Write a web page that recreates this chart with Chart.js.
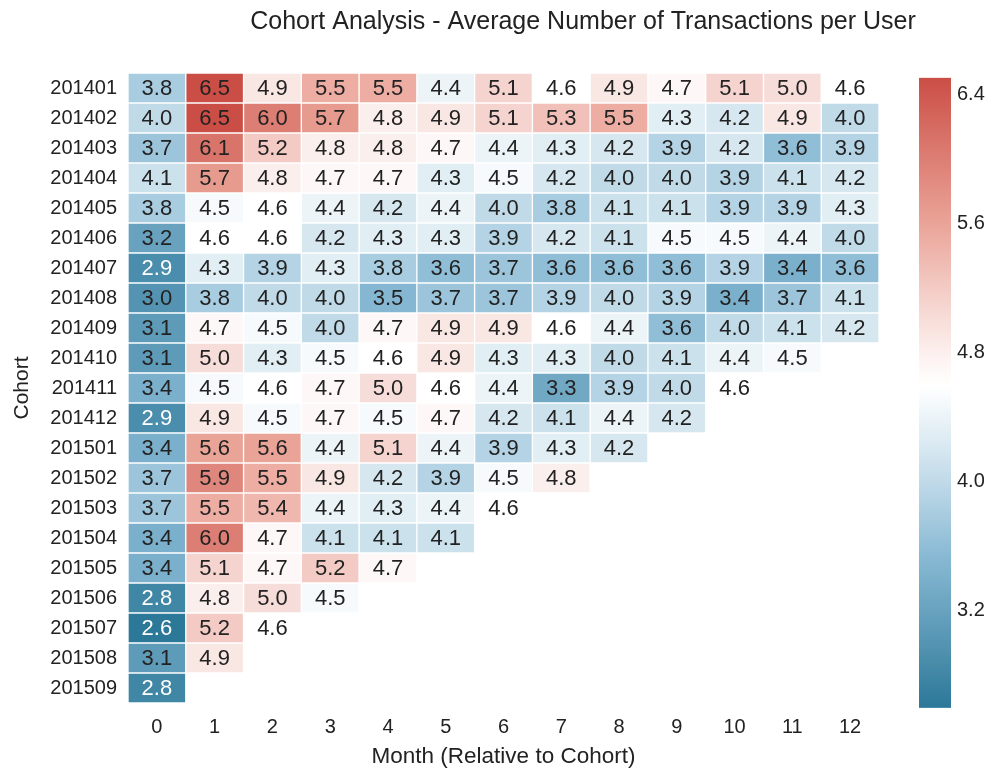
<!DOCTYPE html>
<html>
<head>
<meta charset="utf-8">
<script src="https://cdn.jsdelivr.net/npm/chart.js@4/dist/chart.umd.min.js"></script>
<style>
  html, body { margin: 0; padding: 0; background: #ffffff; }
  #wrap { width: 1000px; height: 770px; position: relative; }
</style>
</head>
<body>
<div id="wrap"><canvas id="c" width="1000" height="770"></canvas></div>
<script>
// ---------------- data ----------------
const titleText = 'Cohort Analysis - Average Number of Transactions per User';
const xTitle = 'Month (Relative to Cohort)';
const yTitle = 'Cohort';
const cohorts = ['201401','201402','201403','201404','201405','201406','201407','201408','201409','201410','201411','201412','201501','201502','201503','201504','201505','201506','201507','201508','201509'];
const months = [0,1,2,3,4,5,6,7,8,9,10,11,12];
const c201401 = [3.8,6.5,4.9,5.5,5.5,4.4,5.1,4.6,4.9,4.7,5.1,5.0,4.6];
const c201402 = [4.0,6.5,6.0,5.7,4.8,4.9,5.1,5.3,5.5,4.3,4.2,4.9,4.0];
const c201403 = [3.7,6.1,5.2,4.8,4.8,4.7,4.4,4.3,4.2,3.9,4.2,3.6,3.9];
const c201404 = [4.1,5.7,4.8,4.7,4.7,4.3,4.5,4.2,4.0,4.0,3.9,4.1,4.2];
const c201405 = [3.8,4.5,4.6,4.4,4.2,4.4,4.0,3.8,4.1,4.1,3.9,3.9,4.3];
const c201406 = [3.2,4.6,4.6,4.2,4.3,4.3,3.9,4.2,4.1,4.5,4.5,4.4,4.0];
const c201407 = [2.9,4.3,3.9,4.3,3.8,3.6,3.7,3.6,3.6,3.6,3.9,3.4,3.6];
const c201408 = [3.0,3.8,4.0,4.0,3.5,3.7,3.7,3.9,4.0,3.9,3.4,3.7,4.1];
const c201409 = [3.1,4.7,4.5,4.0,4.7,4.9,4.9,4.6,4.4,3.6,4.0,4.1,4.2];
const c201410 = [3.1,5.0,4.3,4.5,4.6,4.9,4.3,4.3,4.0,4.1,4.4,4.5];
const c201411 = [3.4,4.5,4.6,4.7,5.0,4.6,4.4,3.3,3.9,4.0,4.6];
const c201412 = [2.9,4.9,4.5,4.7,4.5,4.7,4.2,4.1,4.4,4.2];
const c201501 = [3.4,5.6,5.6,4.4,5.1,4.4,3.9,4.3,4.2];
const c201502 = [3.7,5.9,5.5,4.9,4.2,3.9,4.5,4.8];
const c201503 = [3.7,5.5,5.4,4.4,4.3,4.4,4.6];
const c201504 = [3.4,6.0,4.7,4.1,4.1,4.1];
const c201505 = [3.4,5.1,4.7,5.2,4.7];
const c201506 = [2.8,4.8,5.0,4.5];
const c201507 = [2.6,5.2,4.6];
const c201508 = [3.1,4.9];
const c201509 = [2.8];
const values = [c201401,c201402,c201403,c201404,c201405,c201406,c201407,c201408,c201409,c201410,c201411,c201412,c201501,c201502,c201503,c201504,c201505,c201506,c201507,c201508,c201509];
const cbTicks = [3.2, 4.0, 4.8, 5.6, 6.4];
const vmin = 2.6, vmax = 6.5;

// ---------------- colour map ----------------
const vcenter = 4.6;
const lowStops = [[255, 255, 255], [136, 185, 212], [44, 120, 152]];
const highStops = [[255, 255, 255], [234, 162, 150], [203, 78, 70]];
function lerp(a, b, t) { return a.map((x, i) => x + (b[i] - x) * t); }
function colorFor(v) {
  let t, stops;
  if (v <= vcenter) { t = (vcenter - v) / (vcenter - vmin); stops = lowStops; }
  else { t = (v - vcenter) / (vmax - vcenter); stops = highStops; }
  t = Math.pow(Math.max(0, Math.min(1, t)), 1.1);
  const c = t < 0.5 ? lerp(stops[0], stops[1], t / 0.5) : lerp(stops[1], stops[2], (t - 0.5) / 0.5);
  return `rgb(${Math.round(c[0])},${Math.round(c[1])},${Math.round(c[2])})`;
}

const FONT = "'Liberation Sans', Arial, Helvetica, sans-serif";
const TXT = '#222222';

const datasets = months.map(m => ({
  label: 'Month ' + m,
  data: values.map(row => (row[m] !== undefined ? [m - 0.5, m + 0.5] : null)),
  backgroundColor: values.map(row => (row[m] !== undefined ? colorFor(row[m]) : 'rgba(0,0,0,0)')),
  borderColor: '#ffffff',
  borderWidth: 1,
  borderSkipped: false,
  grouped: false,
  barPercentage: 1,
  categoryPercentage: 1
}));

const heatPlugin = {
  id: 'heat',
  beforeDatasetsDraw(chart) {
    const cb = chart.scales.cb;
    const ctx = chart.ctx;
    const yTop = cb.getPixelForValue(vmax);
    const yBot = cb.getPixelForValue(vmin);
    const x0 = cb.left + 40, w = 32;
    const g = ctx.createLinearGradient(0, yTop, 0, yBot);
    const n = 80;
    for (let i = 0; i <= n; i++) {
      g.addColorStop(i / n, colorFor(vmax - (vmax - vmin) * i / n));
    }
    ctx.save();
    ctx.fillStyle = g;
    ctx.fillRect(x0, yTop, w, yBot - yTop);
    ctx.restore();
  },
  afterDatasetsDraw(chart) {
    const ctx = chart.ctx;
    const xs = chart.scales.x, ys = chart.scales.y;
    ctx.save();
    ctx.font = `22px ${FONT}`;
    ctx.textAlign = 'center';
    ctx.textBaseline = 'middle';
    values.forEach((row, i) => {
      row.forEach((v, m) => {
        ctx.fillStyle = v < 3.0 ? '#ffffff' : TXT;
        ctx.fillText(v.toFixed(1), xs.getPixelForValue(m), ys.getPixelForValue(i) + 1);
      });
    });
    ctx.restore();
  },
  afterDraw(chart) {
    const ctx = chart.ctx;
    ctx.save();
    ctx.font = `25px ${FONT}`;
    ctx.fillStyle = TXT;
    ctx.textAlign = 'center';
    ctx.textBaseline = 'middle';
    ctx.fillText(titleText, 583, 22);
    ctx.restore();
  }
};

new Chart(document.getElementById('c'), {
  type: 'bar',
  data: { labels: cohorts, datasets },
  options: {
    indexAxis: 'y',
    responsive: false,
    animation: false,
    layout: { padding: { top: 73, left: 0, right: 0, bottom: 0 } },
    plugins: { legend: { display: false }, tooltip: { enabled: false }, title: { display: false } },
    scales: {
      x: {
        type: 'linear', position: 'bottom', min: -0.5, max: 12.5, offset: false,
        afterBuildTicks: s => { s.ticks = months.map(v => ({ value: v })); },
        grid: { display: false, drawTicks: false }, border: { display: false },
        ticks: { font: { family: FONT, size: 20 }, color: TXT, padding: 12, maxRotation: 0, autoSkip: false, callback: v => String(v) },
        title: { display: true, text: xTitle, font: { family: FONT, size: 22.5 }, color: TXT, padding: { top: 0, bottom: 0 } },
        afterFit: s => { s.height = 67; s.paddingLeft = 0; s.paddingRight = 0; }
      },
      y: {
        type: 'category', position: 'left', offset: true,
        grid: { display: false, drawTicks: false }, border: { display: false },
        ticks: { font: { family: FONT, size: 20 }, color: TXT, padding: 11, autoSkip: false },
        title: { display: true, text: yTitle, font: { family: FONT, size: 21 }, color: TXT, padding: { top: 10, bottom: 0 } },
        afterFit: s => { s.width = 128; s.paddingTop = 0; s.paddingBottom = 0; }
      },
      cb: {
        type: 'linear', position: 'right', min: 2.63, max: 6.53, offset: false, beginAtZero: false,
        afterBuildTicks: s => { s.ticks = cbTicks.map(v => ({ value: v })); },
        grid: { display: false, drawTicks: false, offset: false }, border: { display: false },
        ticks: { font: { family: FONT, size: 20 }, color: TXT, padding: 78, callback: v => Number(v).toFixed(1) },
        afterFit: s => { s.width = 121; s.paddingTop = 0; s.paddingBottom = 0; }
      }
    }
  },
  plugins: [heatPlugin]
});
</script>
</body>
</html>
